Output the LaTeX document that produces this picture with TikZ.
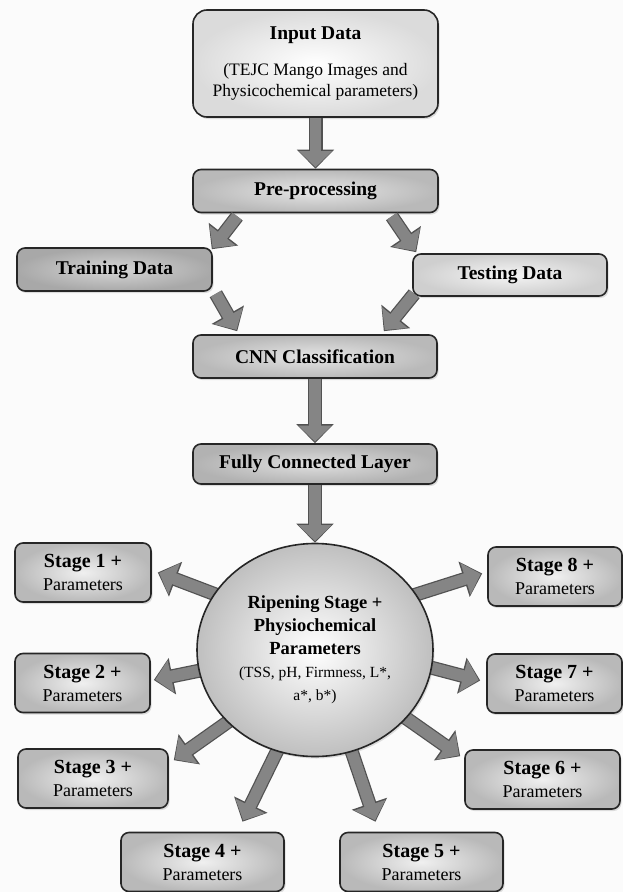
\documentclass[tikz,border=0pt]{standalone}
\usepackage{fontspec}
\setmainfont{Liberation Serif}
\usetikzlibrary{arrows.meta,shapes.geometric,shadows,calc,backgrounds}

\tikzset{
  box/.style={draw=black!85, line width=1.6pt, rounded corners=8pt, inner sep=0pt,
    align=center, font=\fontsize{19.5}{22}\selectfont,
    drop shadow={opacity=0.25,shadow xshift=1.5pt,shadow yshift=-2pt}},
  flowbox/.style={box, minimum width=245pt, minimum height=43pt},
  stagebox/.style={box, inner color=gray!12, outer color=gray!55, minimum height=59pt,
    font=\fontsize{18}{23}\selectfont},
  ballnode/.style={ellipse, draw=black!85, line width=1.6pt, inner sep=0pt, align=center,
    minimum width=236pt, minimum height=213pt, inner color=white, outer color=gray!50,
    font=\fontsize{18.5}{23}\selectfont,
    drop shadow={opacity=0.25,shadow xshift=1.5pt,shadow yshift=-2pt}},
  bigarrow/.style={line width=11.5pt, draw=black!48, shorten >=1.5pt,
    -{Triangle[length=16pt,width=32pt]},
    preaction={draw=black!68, line width=14pt, shorten >=0pt, -{Triangle[length=19pt,width=36pt]}}}
}

\begin{document}
\begin{tikzpicture}[x=1pt,y=-1pt]
		% page size and background
		\begin{scope}[on background layer]
		\fill[gray!3] (0,0) rectangle (623,892);
		\end{scope}
		\useasboundingbox (0,0) rectangle (623,892);
		% the flow boxes
		\node[box, rounded corners=14pt, inner color=white, outer color=gray!28,
		  minimum width=245pt, minimum height=107pt, font=\fontsize{17.5}{21}\selectfont]
		  (input) at (315.5,63.5)
		  {{\fontsize{19.5}{22}\selectfont\bfseries Input Data}\\[15pt]
		   (TEJC Mango Images and\\Physicochemical parameters)};
		\node[flowbox, inner color=gray!20, outer color=gray!55] (pre) at (315.5,191) {\textbf{Pre-processing}};
		\node[flowbox, inner color=gray!32, outer color=gray!68, minimum width=195pt] (train) at (114.5,269.5) {\textbf{Training Data}};
		\node[flowbox, inner color=gray!8, outer color=gray!38, minimum width=194pt, minimum height=42pt] (test) at (510,275) {\textbf{Testing Data}};
		\node[flowbox, inner color=gray!20, outer color=gray!55, minimum width=244pt] (cnn) at (315,356.5) {\textbf{CNN Classification}};
		\node[flowbox, inner color=gray!25, outer color=gray!60, minimum width=244pt, minimum height=40pt] (fcl) at (315,464) {\textbf{Fully Connected Layer}};
		% the ripening stage ball
		\node[ballnode] (ball) at (315,650)
		  {\textbf{Ripening Stage +}\\\textbf{Physiochemical}\\\textbf{Parameters}\\
		   {\fontsize{15.5}{21}\selectfont (TSS, pH, Firmness, L*,}\\
		   {\fontsize{15.5}{21}\selectfont a*, b*)}};
		% the stage boxes
		\foreach \n/\x/\y/\w in {1/83/572.5/136, 2/82.5/683/135, 3/93/778.5/150,
		  4/202.5/862/163, 5/421.5/862/163, 6/542.5/779.5/155,
		  7/554.5/683.5/135, 8/555/576.5/134}
		  \node[stagebox, minimum width=\w pt] (s\n) at (\x,\y)
		    {{\fontsize{20}{23}\selectfont\bfseries Stage \n{} +}\\Parameters};
		% arrows of the flow
		\draw[bigarrow] (input) -- (pre);
		\draw[bigarrow] ($(pre.south west)+(45,3)$) -- ($(train.north east)+(-1,2)$);
		\draw[bigarrow] ($(pre.south east)+(-47,3)$) -- ($(test.north west)+(4,-1)$);
		\draw[bigarrow] ($(train.south east)+(3,2)$) -- ($(cnn.north west)+(45,-3)$);
		\draw[bigarrow] ($(test.south west)+(2,-3)$) -- ($(cnn.north east)+(-54,-3)$);
		\draw[bigarrow] (cnn) -- (fcl);
		\draw[bigarrow] (fcl) -- (ball);
		% arrows out of the ball, under it
		\begin{scope}[on background layer]
		\draw[bigarrow] ($(ball.center)!0.9!(ball.150)$) -- ($(s1.east)+(6,0)$);
		\draw[bigarrow] ($(ball.center)!0.9!(ball.190)$) -- ($(s2.east)+(3,-3)$);
		\draw[bigarrow] ($(ball.center)!0.9!(ball.220)$) -- ($(s3.north east)+(5,12)$);
		\draw[bigarrow] ($(ball.center)!0.9!(ball.250)$) -- ($(s4.north)+(40,-10)$);
		\draw[bigarrow] ($(ball.center)!0.9!(ball.290)$) -- ($(s5.north)+(-46,-10)$);
		\draw[bigarrow] ($(ball.center)!0.9!(ball.-37)$) -- ($(s6.north west)+(-4,7)$);
		\draw[bigarrow] ($(ball.center)!0.9!(ball.-8)$) -- ($(s7.west)+(-6,-3)$);
		\draw[bigarrow] ($(ball.center)!0.9!(ball.30)$) -- ($(s8.west)+(-5,-3)$);
		\end{scope}
\end{tikzpicture}
\end{document}
